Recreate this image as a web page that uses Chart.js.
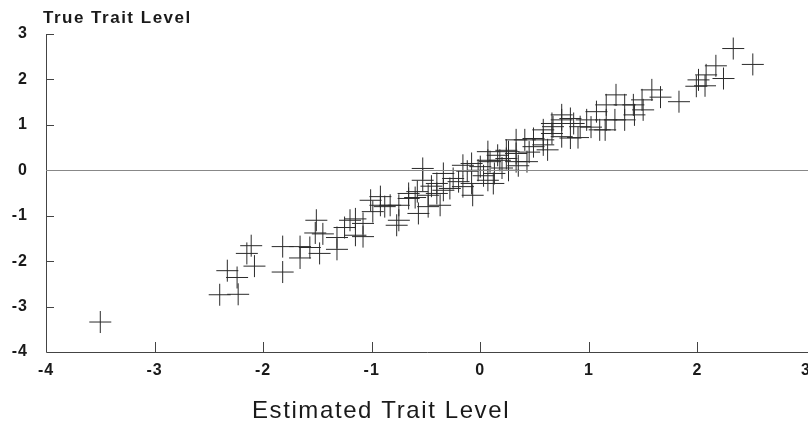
<!DOCTYPE html>
<html>
<head>
<meta charset="utf-8">
<script src="https://cdn.jsdelivr.net/npm/chart.js@4.4.1/dist/chart.umd.min.js"></script>
<style>
  html, body { margin: 0; padding: 0; background: #fff; }
  #wrap { width: 808px; height: 422px; }
</style>
</head>
<body>
<div id="wrap"><canvas id="chart"></canvas></div>
<script>
// estimated (x) and true (y) trait levels
const estimated = [
  -3.50, -2.40, -2.23, -2.33, -2.24, -2.11, -2.15, -2.08, -1.82, -1.82,
  -1.66, -1.66, -1.57, -1.51, -1.52, -1.45, -1.48, -1.32, -1.32, -1.25,
  -1.15, -1.15, -1.08, -1.08, -1.20, -1.01, -0.99, -0.92, -0.92, -0.83,
  -0.75, -0.75, -0.77, -0.66, -0.66, -0.58, -0.57, -0.53, -0.53, -0.48,
  -0.48, -0.40, -0.40, -0.37, -0.34, -0.34, -0.25, -0.28, -0.16, -0.16,
  -0.08, -0.08, -0.07, -0.02, 0.07, 0.07, 0.13, 0.12, 0.00, 0.03,
  0.09, 0.18, 0.24, 0.26, 0.26, 0.33, 0.33, 0.43, 0.24, 0.16,
  0.07, 0.33, 0.41, 0.49, 0.49, 0.58, 0.58, 0.58, 0.66, 0.66,
  0.67, 0.75, 0.75, 0.75, 0.83, 0.83, 0.86, 0.92, 0.98, 1.02,
  1.07, 1.10, 1.15, 1.16, 1.16, 1.24, 1.25, 1.33, 1.33, 1.42,
  1.41, 1.50, 1.49, 1.58, 1.66, 1.83, 1.99, 2.07, 2.01, 2.08,
  2.17, 2.24, 2.33, 2.51, -0.88, -0.60, -0.45, -0.20, -0.12, 0.20,
  0.35, 0.45, 0.62, 0.90
];
const trueLevel = [
  -3.34, -2.74, -2.73, -2.21, -2.36, -1.66, -1.83, -2.11, -1.68, -2.24,
  -1.68, -1.93, -1.70, -1.10, -1.38, -1.40, -1.83, -1.74, -1.48, -1.26,
  -1.07, -1.43, -1.17, -1.46, -1.10, -0.66, -0.91, -0.58, -0.77, -0.77,
  -0.77, -1.10, -1.21, -0.62, -0.51, -0.47, -0.95, -0.22, 0.04, -0.55,
  -0.80, -0.29, -0.51, -0.77, -0.07, -0.44, -0.18, -0.40, 0.11, -0.36,
  0.15, -0.29, -0.55, 0.00, 0.22, -0.22, -0.07, -0.29, 0.08, -0.12,
  0.19, 0.22, 0.26, 0.41, 0.00, 0.37, 0.19, 0.19, 0.44, 0.33,
  0.41, 0.67, 0.67, 0.70, 0.52, 0.56, 0.89, 0.67, 0.81, 1.03,
  0.96, 0.74, 1.11, 1.22, 0.71, 1.14, 1.03, 0.96, 1.11, 0.95,
  1.29, 0.89, 0.89, 1.11, 1.44, 1.11, 1.66, 1.11, 1.44, 1.22,
  1.44, 1.33, 1.55, 1.77, 1.61, 1.51, 1.85, 1.86, 1.99, 2.10,
  2.30, 2.02, 2.68, 2.33, -0.80, -0.60, -0.35, -0.25, -0.02, 0.05,
  0.10, 0.40, 0.45, 0.72
];
const xTicks = [-4, -3, -2, -1, 0, 1, 2, 3];
const yTicks = [-4, -3, -2, -1, 0, 1, 2, 3];

const points = estimated.map((x, i) => ({ x: x, y: trueLevel[i] }));

const ink = '#1a1a1a';
const fontFamily = '"Liberation Sans", Arial, sans-serif';

// axis lines, inward tick marks, tick labels, zero line and the two titles
const decor = {
  id: 'decor',
  afterDraw(chart) {
    const ctx = chart.ctx;
    const xs = chart.scales.x, ys = chart.scales.y;
    const area = chart.chartArea;
    ctx.save();
    ctx.strokeStyle = '#444';
    ctx.lineWidth = 1;
    ctx.beginPath();
    ctx.moveTo(area.left + 0.5, ys.getPixelForValue(3));
    ctx.lineTo(area.left + 0.5, area.bottom + 0.5);
    ctx.lineTo(chart.width, area.bottom + 0.5);
    xTicks.slice(1, -1).forEach(v => {
      const px = Math.round(xs.getPixelForValue(v)) + 0.5;
      ctx.moveTo(px, area.bottom);
      ctx.lineTo(px, area.bottom - 10);
    });
    yTicks.slice(1).forEach(v => {
      const py = Math.round(ys.getPixelForValue(v)) + 0.5;
      ctx.moveTo(area.left, py);
      ctx.lineTo(area.left + 8, py);
    });
    ctx.stroke();

    ctx.strokeStyle = '#888';
    const zy = Math.round(ys.getPixelForValue(0)) + 0.5;
    ctx.beginPath();
    ctx.moveTo(area.left, zy);
    ctx.lineTo(chart.width, zy);
    ctx.stroke();

    ctx.fillStyle = ink;
    ctx.letterSpacing = '1px';
    ctx.font = 'bold 16px ' + fontFamily;
    ctx.textBaseline = 'middle';
    ctx.textAlign = 'center';
    xTicks.forEach(v => {
      ctx.fillText(String(v), xs.getPixelForValue(v), area.bottom + 19);
    });
    ctx.textAlign = 'right';
    yTicks.forEach(v => {
      ctx.fillText(String(v), 28, ys.getPixelForValue(v));
    });

    ctx.textBaseline = 'alphabetic';
    ctx.letterSpacing = '1.5px';
    ctx.font = 'bold 17px ' + fontFamily;
    ctx.textAlign = 'left';
    ctx.fillText('True Trait Level', 43, 23);
    ctx.letterSpacing = '1.6px';
    ctx.font = '24px ' + fontFamily;
    ctx.textAlign = 'center';
    ctx.fillText('Estimated Trait Level', 381, 418);
    ctx.restore();
  }
};

new Chart(document.getElementById('chart'), {
  type: 'scatter',
  data: {
    datasets: [
      {
        label: 'Trait level',
        data: points,
        pointStyle: 'cross',
        radius: 11,
        hoverRadius: 11,
        borderColor: '#2a2a2a',
        borderWidth: 1,
        backgroundColor: 'transparent'
      }
    ]
  },
  options: {
    responsive: true,
    maintainAspectRatio: false,
    animation: false,
    layout: { autoPadding: false, padding: { top: 34, right: 2, left: 0, bottom: 0 } },
    plugins: {
      legend: { display: false },
      tooltip: { enabled: false }
    },
    scales: {
      x: {
        type: 'linear',
        min: -4,
        max: 3,
        grid: { display: false, drawTicks: false },
        border: { display: false },
        ticks: { display: false },
        afterFit: s => { s.height = 70; }
      },
      y: {
        type: 'linear',
        min: -4,
        max: 3,
        grid: { display: false, drawTicks: false },
        border: { display: false },
        ticks: { display: false },
        afterFit: s => { s.width = 46; }
      }
    }
  },
  plugins: [decor]
});
</script>
</body>
</html>
